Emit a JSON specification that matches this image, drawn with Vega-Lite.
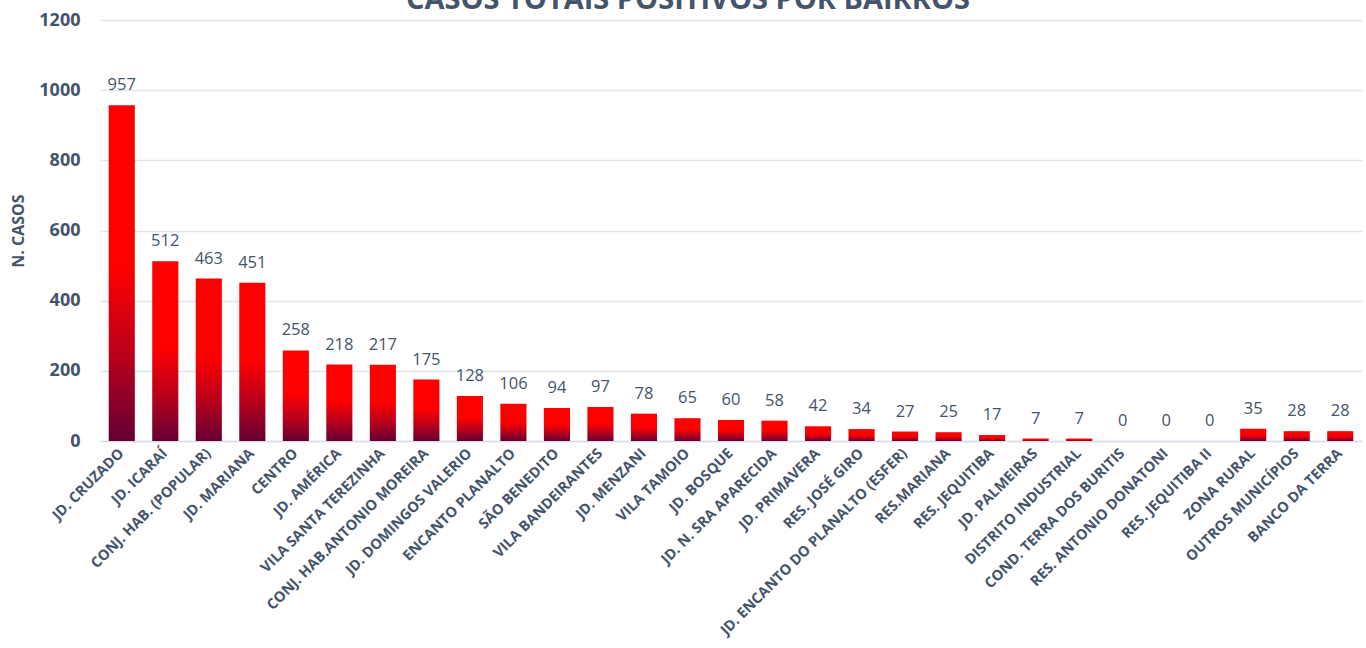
{
  "$schema": "https://vega.github.io/schema/vega-lite/v6.json",
  "width": 1262,
  "height": 421,
  "autosize": {"type": "none"},
  "padding": {"left": 100, "top": 20, "right": 4, "bottom": 207},
  "background": "white",
  "title": {
    "text": "CASOS TOTAIS POSITIVOS POR BAIRROS",
    "font": "Open Sans",
    "fontSize": 29,
    "fontWeight": "bold",
    "color": "#44546a",
    "anchor": "middle",
    "frame": "group",
    "baseline": "bottom",
    "offset": 0,
    "dx": -43,
    "dy": 33
  },
  "data": {
    "values": [
      {"bairro": "JD. CRUZADO", "casos": 957},
      {"bairro": "JD. ICARAÍ", "casos": 512},
      {"bairro": "CONJ. HAB. (POPULAR)", "casos": 463},
      {"bairro": "JD. MARIANA", "casos": 451},
      {"bairro": "CENTRO", "casos": 258},
      {"bairro": "JD. AMÉRICA", "casos": 218},
      {"bairro": "VILA SANTA TEREZINHA", "casos": 217},
      {"bairro": "CONJ. HAB.ANTONIO MOREIRA", "casos": 175},
      {"bairro": "JD. DOMINGOS VALERIO", "casos": 128},
      {"bairro": "ENCANTO PLANALTO", "casos": 106},
      {"bairro": "SÃO BENEDITO", "casos": 94},
      {"bairro": "VILA BANDEIRANTES", "casos": 97},
      {"bairro": "JD. MENZANI", "casos": 78},
      {"bairro": "VILA TAMOIO", "casos": 65},
      {"bairro": "JD. BOSQUE", "casos": 60},
      {"bairro": "JD. N. SRA APARECIDA", "casos": 58},
      {"bairro": "JD. PRIMAVERA", "casos": 42},
      {"bairro": "RES. JOSÉ GIRO", "casos": 34},
      {"bairro": "JD. ENCANTO DO PLANALTO (ESFER)", "casos": 27},
      {"bairro": "RES.MARIANA", "casos": 25},
      {"bairro": "RES. JEQUITIBA", "casos": 17},
      {"bairro": "JD. PALMEIRAS", "casos": 7},
      {"bairro": "DISTRITO INDUSTRIAL", "casos": 7},
      {"bairro": "COND. TERRA DOS BURITIS", "casos": 0},
      {"bairro": "RES. ANTONIO DONATONI", "casos": 0},
      {"bairro": "RES. JEQUITIBA II", "casos": 0},
      {"bairro": "ZONA RURAL", "casos": 35},
      {"bairro": "OUTROS MUNICÍPIOS", "casos": 28},
      {"bairro": "BANCO DA TERRA", "casos": 28}
    ]
  },
  "encoding": {
    "x": {
      "field": "bairro",
      "type": "nominal",
      "sort": null,
      "scale": {"paddingInner": 0.4, "paddingOuter": 0.2},
      "axis": {
        "title": null,
        "labelAngle": -45,
        "labelAlign": "right",
        "labelBaseline": "middle",
        "labelPadding": 10,
        "labelFont": "Open Sans",
        "labelFontSize": 14.5,
        "labelFontWeight": "bold",
        "labelColor": "#44546a",
        "labelOverlap": false,
        "labelLimit": 400,
        "ticks": false,
        "domain": true,
        "domainColor": "#d9dee6",
        "domainWidth": 1.5,
        "grid": false
      }
    },
    "y": {
      "field": "casos",
      "type": "quantitative",
      "scale": {"domain": [0, 1200], "nice": false},
      "axis": {
        "title": "N. CASOS",
        "titleFont": "Open Sans",
        "titleFontSize": 16,
        "titleFontWeight": "bold",
        "titleColor": "#44546a",
        "titlePadding": 12,
        "values": [0, 200, 400, 600, 800, 1000, 1200],
        "format": "d",
        "labelFont": "Open Sans",
        "labelFontSize": 18,
        "labelFontWeight": "bold",
        "labelColor": "#44546a",
        "labelPadding": 20,
        "ticks": false,
        "domain": false,
        "grid": true,
        "gridColor": "#e1e5eb",
        "gridWidth": 1.5
      }
    }
  },
  "layer": [
    {
      "mark": {
        "type": "bar",
        "color": {
          "gradient": "linear",
          "x1": 0, "y1": 0, "x2": 0, "y2": 1,
          "stops": [
            {"offset": 0, "color": "#ff0000"},
            {"offset": 0.48, "color": "#ff0000"},
            {"offset": 0.75, "color": "#b8001c"},
            {"offset": 1, "color": "#640033"}
          ]
        }
      }
    },
    {
      "mark": {
        "type": "text",
        "font": "Open Sans",
        "fontSize": 16.5,
        "color": "#44546a",
        "baseline": "alphabetic",
        "align": "center",
        "dy": -15
      },
      "encoding": {
        "text": {"field": "casos", "type": "quantitative"}
      }
    }
  ],
  "config": {
    "view": {"stroke": null}
  }
}
